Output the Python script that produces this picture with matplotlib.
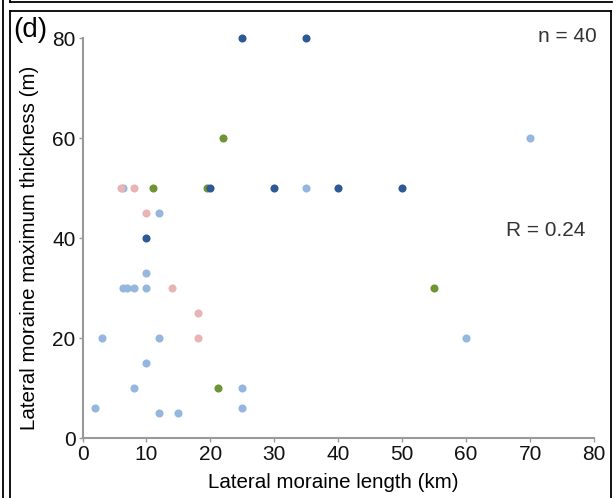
import numpy as np
import matplotlib
matplotlib.use("Agg")
import matplotlib.pyplot as plt
from matplotlib.lines import Line2D

plt.rcParams['font.family'] = ['Liberation Sans', 'DejaVu Sans']

# Datos, por grupo de color
dark_x = [25, 35, 20, 30, 40, 50, 10]
dark_y = [80, 80, 50, 50, 50, 50, 40]

green_x = [22, 11, 19.5, 21.2, 55]
green_y = [60, 50, 50, 10, 30]

pink_x = [6, 8, 10, 14, 18, 18]
pink_y = [50, 50, 45, 30, 25, 20]

light_x = [70, 6.4, 35, 12, 10, 6.3, 7, 8, 10, 3, 12, 60, 10, 8, 25, 2, 12, 15, 25]
light_y = [60, 50, 50, 45, 33, 30, 30, 30, 30, 20, 20, 20, 15, 10, 10, 6, 5, 5, 6]

W, H = 616, 498
fig = plt.figure(figsize=(W / 100, H / 100), dpi=100)
ax = fig.add_axes([82.5 / W, 1 - 438 / H, (594 - 82.5) / W, (438 - 38.5) / H])

s = 34
ax.scatter(light_x, light_y, s=s, color='#95b6dd', linewidths=0, zorder=3, clip_on=False)
ax.scatter(pink_x, pink_y, s=s, color='#e8b4b4', linewidths=0, zorder=3, clip_on=False)
ax.scatter(green_x, green_y, s=s, color='#6e9434', linewidths=0, zorder=4, clip_on=False)
ax.scatter(dark_x, dark_y, s=s, color='#2d5a95', linewidths=0, zorder=5, clip_on=False)

ax.set_xlim(0, 80)
ax.set_ylim(0, 80)
ax.set_xticks(np.arange(0, 81, 10))
ax.set_yticks(np.arange(0, 81, 20))
ax.spines['top'].set_visible(False)
ax.spines['right'].set_visible(False)
for sp in ['left', 'bottom']:
    ax.spines[sp].set_color('#999999')
    ax.spines[sp].set_linewidth(1.5)
ax.tick_params(direction='out', length=3, width=1, color='#999999',
               labelsize=15, labelcolor='#111111', pad=2)

fig.text(333 / W, 1 - 482 / H, 'Lateral moraine length (km)',
         fontsize=14.8, ha='center', va='center')
fig.text(30 / W, 1 - 248 / H, 'Lateral moraine maximum thickness (m)',
         rotation=90, fontsize=14.8, ha='center', va='center')
fig.text(13 / W, 1 - 30 / H, '(d)', fontsize=20, ha='left', va='center')
fig.text(597 / W, 1 - 37 / H, 'n = 40', fontsize=15, color='#333333',
         ha='right', va='center')
fig.text(585 / W, 1 - 230 / H, 'R = 0.24', fontsize=15, color='#333333',
         ha='right', va='center')

# Marcos de los paneles
def line(xs, ys):
    fig.add_artist(Line2D([x / W for x in xs], [1 - y / H for y in ys],
                          color='black', linewidth=1.3))

line([3, 3], [0, H])
line([9.5, 612], [2.5, 2.5])
line([9.5, 9.5], [0, 2.5])
line([9.5, 9.5], [11.5, H])
line([9.5, 610.5], [11.5, 11.5])
line([610.5, 610.5], [11.5, H])

fig.savefig('out.png', dpi=100)
